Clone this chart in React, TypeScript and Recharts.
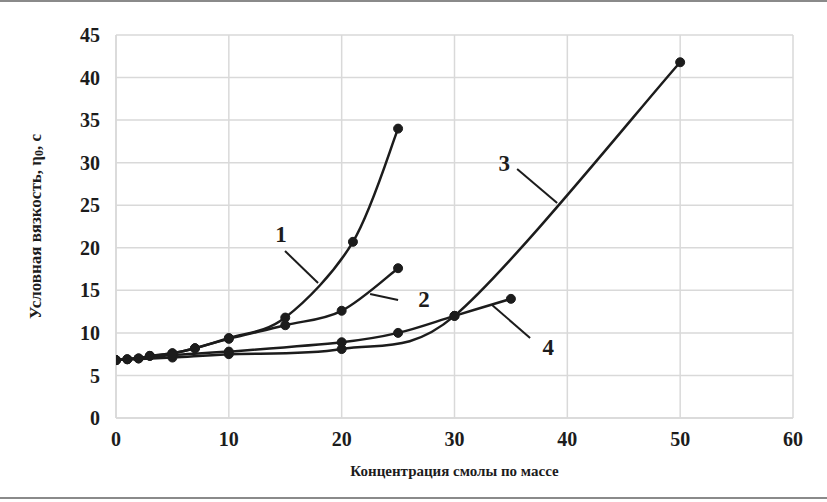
import { LineChart, Line, XAxis, YAxis, CartesianGrid, ReferenceLine, ReferenceDot } from 'recharts';

// series values: [concentration, viscosity]
const curve1 = [[0, 6.8], [1, 6.9], [2, 7.0], [3, 7.3], [5, 7.6], [7, 8.2], [10, 9.4], [15, 11.8], [21, 20.7], [25, 34.0]];
const curve2 = [[0, 6.8], [1, 6.9], [2, 7.0], [3, 7.3], [5, 7.6], [7, 8.2], [10, 9.3], [15, 10.9], [20, 12.6], [25, 17.6]];
const curve3 = [[0, 6.8], [5, 7.1], [10, 7.5], [20, 8.1], [30, 12.0], [50, 41.8]];
const curve4 = [[0, 6.8], [5, 7.4], [10, 7.8], [20, 8.9], [25, 10.0], [30, 12.0], [35, 14.0]];

const xTicks = [0, 10, 20, 30, 40, 50, 60];
const yTicks = [0, 5, 10, 15, 20, 25, 30, 35, 40, 45];

// curve numbers and their leader lines
const curveNames = ['1', '2', '3', '4'];
const namePos = [[14.63, 21.62], [27.3, 13.98], [34.4, 29.96], [38.3, 8.34]];
const leaders = [
  [[14.98, 19.62], [17.91, 15.86]],
  [[22.52, 14.57], [25.0, 13.87]],
  [[35.55, 29.26], [39.1, 25.26]],
  [[33.33, 13.28], [36.7, 9.4]],
];

const toRows = (pts: number[][]) => pts.map(([x, y]) => ({ x, y }));

const dist = (a: number[], b: number[]) => Math.hypot(b[0] - a[0], b[1] - a[1]);

// spreadsheet-style smoothing: catmull-rom, control arm capped at half the segment
const smooth = (ctx: any) => {
  let pts: number[][] = [];
  return {
    areaStart() {},
    areaEnd() {},
    lineStart() { pts = []; },
    point(x: number, y: number) { pts.push([+x, +y]); },
    lineEnd() {
      if (!pts.length) return;
      ctx.moveTo(pts[0][0], pts[0][1]);
      for (let i = 0; i < pts.length - 1; i++) {
        const p0 = pts[i - 1] || pts[i];
        const p1 = pts[i];
        const p2 = pts[i + 1];
        const p3 = pts[i + 2] || pts[i + 1];
        const half = dist(p1, p2) / 2;
        const d02 = dist(p0, p2);
        const d13 = dist(p1, p3);
        const f0 = d02 / 6 > half && d02 > 0 ? half / d02 : 1 / 6;
        const f1 = d13 / 6 > half && d13 > 0 ? half / d13 : 1 / 6;
        ctx.bezierCurveTo(
          p1[0] + (p2[0] - p0[0]) * f0, p1[1] + (p2[1] - p0[1]) * f0,
          p2[0] - (p3[0] - p1[0]) * f1, p2[1] - (p3[1] - p1[1]) * f1,
          p2[0], p2[1],
        );
      }
    },
  };
};

const font = '"Liberation Serif", "Times New Roman", serif';
const ink = '#1c1c1c';
const gridColor = '#d9d9d9';

function YTitle({ viewBox }: any) {
  const cx = 35;
  const cy = viewBox.y + viewBox.height / 2;
  return (
    <text x={cx} y={cy} transform={`rotate(-90 ${cx} ${cy})`} textAnchor="middle" dominantBaseline="central"
      fontFamily={font} fontWeight="bold" fontSize={17} fill={ink}>
      Условная вязкость, η<tspan fontSize={12} dy={4}>0</tspan><tspan dy={-4}>, с</tspan>
    </text>
  );
}

export default function App() {
  const series = [curve1, curve2, curve3, curve4];
  return (
    <div style={{ position: 'absolute', left: 0, top: 0, width: 827, height: 502, background: '#fff' }}>
      <div style={{ position: 'absolute', left: 0, top: 0, width: 827, height: 2, background: '#8a8a8a' }} />
      <div style={{ position: 'absolute', left: 0, top: 497, width: 827, height: 2, background: '#8a8a8a' }} />
      <LineChart width={827} height={502} margin={{ top: 35, right: 34, bottom: 0, left: 0 }}>
        <CartesianGrid stroke={gridColor} strokeWidth={1.5} horizontalValues={yTicks} verticalValues={xTicks} />
        <XAxis type="number" dataKey="x" domain={[0, 60]} ticks={xTicks} allowDataOverflow height={84}
          axisLine={{ stroke: gridColor, strokeWidth: 1.5 }} tickLine={false} tickSize={0} tickMargin={14}
          tick={{ fontFamily: font, fontWeight: 'bold', fontSize: 20, fill: ink }}
          label={{ value: 'Концентрация смолы по массе', position: 'insideBottom', offset: 26,
            style: { fontFamily: font, fontWeight: 'bold', fontSize: 15, fill: ink } }} />
        <YAxis type="number" dataKey="y" domain={[0, 45]} ticks={yTicks} width={116} allowDataOverflow
          axisLine={{ stroke: gridColor, strokeWidth: 1.5 }} tickLine={false} tickSize={0} tickMargin={16}
          tick={{ fontFamily: font, fontWeight: 'bold', fontSize: 20, fill: ink }}
          label={<YTitle />} />
        {series.map((s, i) => (
          <Line key={i} data={toRows(s)} dataKey="y" type={smooth as any} stroke={ink} strokeWidth={2.5}
            dot={{ r: 4.5, fill: ink, stroke: ink, strokeWidth: 1 }} activeDot={false} isAnimationActive={false} />
        ))}
        {leaders.map((seg, i) => (
          <ReferenceLine key={'l' + i} segment={[{ x: seg[0][0], y: seg[0][1] }, { x: seg[1][0], y: seg[1][1] }]}
            stroke={ink} strokeWidth={2} ifOverflow="visible" />
        ))}
        {curveNames.map((n, i) => (
          <ReferenceDot key={'n' + i} x={namePos[i][0]} y={namePos[i][1]} r={0} fill="none" stroke="none"
            ifOverflow="visible"
            label={{ value: n, position: 'center', style: { fontFamily: font, fontWeight: 'bold', fontSize: 23, fill: ink } }} />
        ))}
      </LineChart>
    </div>
  );
}
